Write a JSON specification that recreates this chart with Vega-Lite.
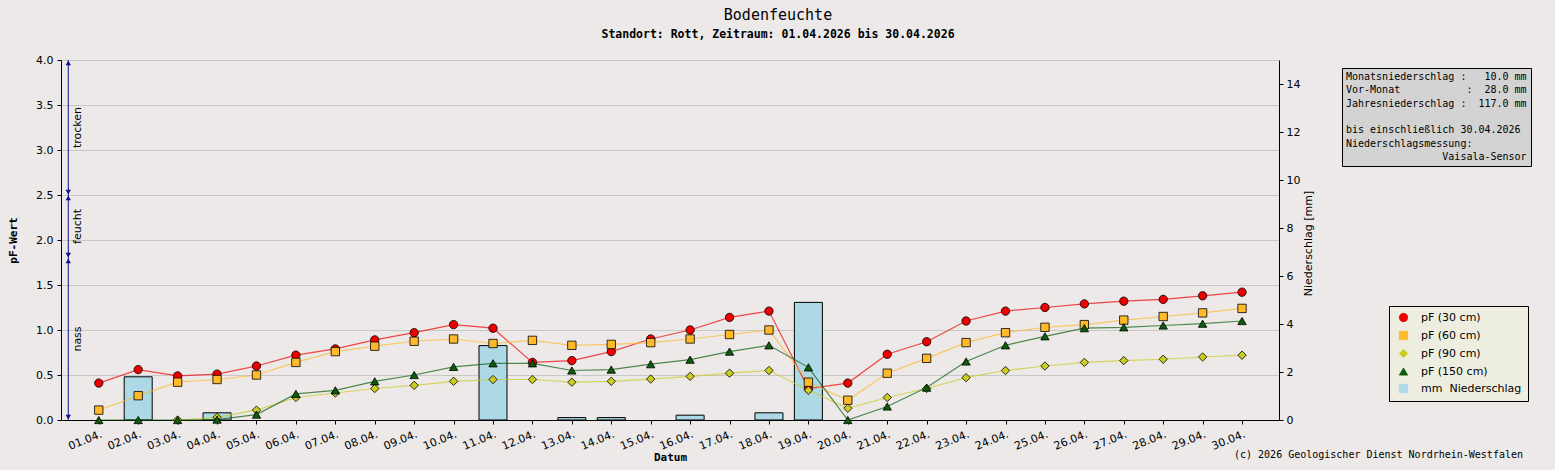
{
  "$schema": "https://vega.github.io/schema/vega-lite/v6.json",
  "description": "Bodenfeuchte Rott, April 2026",
  "width": 1218,
  "height": 360,
  "autosize": "none",
  "padding": {"left": 61, "top": 60, "right": 276, "bottom": 50},
  "background": "#ece9e8",
  "title": {
    "text": "Bodenfeuchte",
    "subtitle": "Standort: Rott, Zeitraum: 01.04.2026 bis 30.04.2026",
    "anchor": "middle",
    "frame": "group",
    "dx": 108,
    "offset": 14,
    "font": "DejaVu Sans Mono",
    "fontSize": 15,
    "fontWeight": "normal",
    "color": "black",
    "subtitleFont": "DejaVu Sans Mono",
    "subtitleFontSize": 11.5,
    "subtitleFontWeight": "bold",
    "subtitleColor": "black",
    "subtitlePadding": 6
  },
  "config": {
    "view": {"fill": "white", "stroke": null},
    "axis": {
      "labelFont": "DejaVu Sans",
      "labelFontSize": 11,
      "labelColor": "black",
      "domainColor": "black",
      "tickColor": "black",
      "titleColor": "black"
    }
  },
  "datasets": {
    "boden": [
      {"datum": "2026-04-01", "serie": "pF (30 cm)", "pF": 0.41},
      {"datum": "2026-04-02", "serie": "pF (30 cm)", "pF": 0.56},
      {"datum": "2026-04-03", "serie": "pF (30 cm)", "pF": 0.49},
      {"datum": "2026-04-04", "serie": "pF (30 cm)", "pF": 0.51},
      {"datum": "2026-04-05", "serie": "pF (30 cm)", "pF": 0.60},
      {"datum": "2026-04-06", "serie": "pF (30 cm)", "pF": 0.72},
      {"datum": "2026-04-07", "serie": "pF (30 cm)", "pF": 0.79},
      {"datum": "2026-04-08", "serie": "pF (30 cm)", "pF": 0.89},
      {"datum": "2026-04-09", "serie": "pF (30 cm)", "pF": 0.97},
      {"datum": "2026-04-10", "serie": "pF (30 cm)", "pF": 1.06},
      {"datum": "2026-04-11", "serie": "pF (30 cm)", "pF": 1.02},
      {"datum": "2026-04-12", "serie": "pF (30 cm)", "pF": 0.64},
      {"datum": "2026-04-13", "serie": "pF (30 cm)", "pF": 0.66},
      {"datum": "2026-04-14", "serie": "pF (30 cm)", "pF": 0.76},
      {"datum": "2026-04-15", "serie": "pF (30 cm)", "pF": 0.90},
      {"datum": "2026-04-16", "serie": "pF (30 cm)", "pF": 1.00},
      {"datum": "2026-04-17", "serie": "pF (30 cm)", "pF": 1.14},
      {"datum": "2026-04-18", "serie": "pF (30 cm)", "pF": 1.21},
      {"datum": "2026-04-19", "serie": "pF (30 cm)", "pF": 0.35},
      {"datum": "2026-04-20", "serie": "pF (30 cm)", "pF": 0.41},
      {"datum": "2026-04-21", "serie": "pF (30 cm)", "pF": 0.73},
      {"datum": "2026-04-22", "serie": "pF (30 cm)", "pF": 0.87},
      {"datum": "2026-04-23", "serie": "pF (30 cm)", "pF": 1.10},
      {"datum": "2026-04-24", "serie": "pF (30 cm)", "pF": 1.21},
      {"datum": "2026-04-25", "serie": "pF (30 cm)", "pF": 1.25},
      {"datum": "2026-04-26", "serie": "pF (30 cm)", "pF": 1.29},
      {"datum": "2026-04-27", "serie": "pF (30 cm)", "pF": 1.32},
      {"datum": "2026-04-28", "serie": "pF (30 cm)", "pF": 1.34},
      {"datum": "2026-04-29", "serie": "pF (30 cm)", "pF": 1.38},
      {"datum": "2026-04-30", "serie": "pF (30 cm)", "pF": 1.42},
      {"datum": "2026-04-01", "serie": "pF (60 cm)", "pF": 0.11},
      {"datum": "2026-04-02", "serie": "pF (60 cm)", "pF": 0.27},
      {"datum": "2026-04-03", "serie": "pF (60 cm)", "pF": 0.42},
      {"datum": "2026-04-04", "serie": "pF (60 cm)", "pF": 0.45},
      {"datum": "2026-04-05", "serie": "pF (60 cm)", "pF": 0.50},
      {"datum": "2026-04-06", "serie": "pF (60 cm)", "pF": 0.64},
      {"datum": "2026-04-07", "serie": "pF (60 cm)", "pF": 0.76},
      {"datum": "2026-04-08", "serie": "pF (60 cm)", "pF": 0.82},
      {"datum": "2026-04-09", "serie": "pF (60 cm)", "pF": 0.875},
      {"datum": "2026-04-10", "serie": "pF (60 cm)", "pF": 0.90},
      {"datum": "2026-04-11", "serie": "pF (60 cm)", "pF": 0.85},
      {"datum": "2026-04-12", "serie": "pF (60 cm)", "pF": 0.885},
      {"datum": "2026-04-13", "serie": "pF (60 cm)", "pF": 0.83},
      {"datum": "2026-04-14", "serie": "pF (60 cm)", "pF": 0.84},
      {"datum": "2026-04-15", "serie": "pF (60 cm)", "pF": 0.86},
      {"datum": "2026-04-16", "serie": "pF (60 cm)", "pF": 0.90},
      {"datum": "2026-04-17", "serie": "pF (60 cm)", "pF": 0.95},
      {"datum": "2026-04-18", "serie": "pF (60 cm)", "pF": 1.00},
      {"datum": "2026-04-19", "serie": "pF (60 cm)", "pF": 0.42},
      {"datum": "2026-04-20", "serie": "pF (60 cm)", "pF": 0.22},
      {"datum": "2026-04-21", "serie": "pF (60 cm)", "pF": 0.52},
      {"datum": "2026-04-22", "serie": "pF (60 cm)", "pF": 0.685},
      {"datum": "2026-04-23", "serie": "pF (60 cm)", "pF": 0.86},
      {"datum": "2026-04-24", "serie": "pF (60 cm)", "pF": 0.97},
      {"datum": "2026-04-25", "serie": "pF (60 cm)", "pF": 1.03},
      {"datum": "2026-04-26", "serie": "pF (60 cm)", "pF": 1.06},
      {"datum": "2026-04-27", "serie": "pF (60 cm)", "pF": 1.11},
      {"datum": "2026-04-28", "serie": "pF (60 cm)", "pF": 1.15},
      {"datum": "2026-04-29", "serie": "pF (60 cm)", "pF": 1.19},
      {"datum": "2026-04-30", "serie": "pF (60 cm)", "pF": 1.24},
      {"datum": "2026-04-03", "serie": "pF (90 cm)", "pF": 0.0},
      {"datum": "2026-04-04", "serie": "pF (90 cm)", "pF": 0.03},
      {"datum": "2026-04-05", "serie": "pF (90 cm)", "pF": 0.11},
      {"datum": "2026-04-06", "serie": "pF (90 cm)", "pF": 0.25},
      {"datum": "2026-04-07", "serie": "pF (90 cm)", "pF": 0.30},
      {"datum": "2026-04-08", "serie": "pF (90 cm)", "pF": 0.35},
      {"datum": "2026-04-09", "serie": "pF (90 cm)", "pF": 0.385},
      {"datum": "2026-04-10", "serie": "pF (90 cm)", "pF": 0.43},
      {"datum": "2026-04-11", "serie": "pF (90 cm)", "pF": 0.45},
      {"datum": "2026-04-12", "serie": "pF (90 cm)", "pF": 0.45},
      {"datum": "2026-04-13", "serie": "pF (90 cm)", "pF": 0.42},
      {"datum": "2026-04-14", "serie": "pF (90 cm)", "pF": 0.43},
      {"datum": "2026-04-15", "serie": "pF (90 cm)", "pF": 0.455},
      {"datum": "2026-04-16", "serie": "pF (90 cm)", "pF": 0.485},
      {"datum": "2026-04-17", "serie": "pF (90 cm)", "pF": 0.52},
      {"datum": "2026-04-18", "serie": "pF (90 cm)", "pF": 0.55},
      {"datum": "2026-04-19", "serie": "pF (90 cm)", "pF": 0.33},
      {"datum": "2026-04-20", "serie": "pF (90 cm)", "pF": 0.13},
      {"datum": "2026-04-21", "serie": "pF (90 cm)", "pF": 0.25},
      {"datum": "2026-04-22", "serie": "pF (90 cm)", "pF": 0.35},
      {"datum": "2026-04-23", "serie": "pF (90 cm)", "pF": 0.47},
      {"datum": "2026-04-24", "serie": "pF (90 cm)", "pF": 0.55},
      {"datum": "2026-04-25", "serie": "pF (90 cm)", "pF": 0.60},
      {"datum": "2026-04-26", "serie": "pF (90 cm)", "pF": 0.64},
      {"datum": "2026-04-27", "serie": "pF (90 cm)", "pF": 0.66},
      {"datum": "2026-04-28", "serie": "pF (90 cm)", "pF": 0.675},
      {"datum": "2026-04-29", "serie": "pF (90 cm)", "pF": 0.70},
      {"datum": "2026-04-30", "serie": "pF (90 cm)", "pF": 0.72},
      {"datum": "2026-04-01", "serie": "pF (150 cm)", "pF": 0.0},
      {"datum": "2026-04-02", "serie": "pF (150 cm)", "pF": 0.0},
      {"datum": "2026-04-03", "serie": "pF (150 cm)", "pF": 0.0},
      {"datum": "2026-04-04", "serie": "pF (150 cm)", "pF": 0.005},
      {"datum": "2026-04-05", "serie": "pF (150 cm)", "pF": 0.06},
      {"datum": "2026-04-06", "serie": "pF (150 cm)", "pF": 0.29},
      {"datum": "2026-04-07", "serie": "pF (150 cm)", "pF": 0.33},
      {"datum": "2026-04-08", "serie": "pF (150 cm)", "pF": 0.43},
      {"datum": "2026-04-09", "serie": "pF (150 cm)", "pF": 0.50},
      {"datum": "2026-04-10", "serie": "pF (150 cm)", "pF": 0.59},
      {"datum": "2026-04-11", "serie": "pF (150 cm)", "pF": 0.63},
      {"datum": "2026-04-12", "serie": "pF (150 cm)", "pF": 0.63},
      {"datum": "2026-04-13", "serie": "pF (150 cm)", "pF": 0.55},
      {"datum": "2026-04-14", "serie": "pF (150 cm)", "pF": 0.56},
      {"datum": "2026-04-15", "serie": "pF (150 cm)", "pF": 0.62},
      {"datum": "2026-04-16", "serie": "pF (150 cm)", "pF": 0.67},
      {"datum": "2026-04-17", "serie": "pF (150 cm)", "pF": 0.76},
      {"datum": "2026-04-18", "serie": "pF (150 cm)", "pF": 0.83},
      {"datum": "2026-04-19", "serie": "pF (150 cm)", "pF": 0.585},
      {"datum": "2026-04-20", "serie": "pF (150 cm)", "pF": 0.0},
      {"datum": "2026-04-21", "serie": "pF (150 cm)", "pF": 0.15},
      {"datum": "2026-04-22", "serie": "pF (150 cm)", "pF": 0.36},
      {"datum": "2026-04-23", "serie": "pF (150 cm)", "pF": 0.65},
      {"datum": "2026-04-24", "serie": "pF (150 cm)", "pF": 0.83},
      {"datum": "2026-04-25", "serie": "pF (150 cm)", "pF": 0.93},
      {"datum": "2026-04-26", "serie": "pF (150 cm)", "pF": 1.02},
      {"datum": "2026-04-27", "serie": "pF (150 cm)", "pF": 1.03},
      {"datum": "2026-04-28", "serie": "pF (150 cm)", "pF": 1.05},
      {"datum": "2026-04-29", "serie": "pF (150 cm)", "pF": 1.07},
      {"datum": "2026-04-30", "serie": "pF (150 cm)", "pF": 1.10}
    ],
    "regen": [
      {"datum": "2026-04-02", "mm": 1.8},
      {"datum": "2026-04-04", "mm": 0.3},
      {"datum": "2026-04-11", "mm": 3.1},
      {"datum": "2026-04-13", "mm": 0.1},
      {"datum": "2026-04-14", "mm": 0.1},
      {"datum": "2026-04-16", "mm": 0.2},
      {"datum": "2026-04-18", "mm": 0.3},
      {"datum": "2026-04-19", "mm": 4.9}
    ],
    "zonen": [
      {"zone": "trocken", "lo": 2.5, "hi": 4.0},
      {"zone": "feucht", "lo": 1.8, "hi": 2.5},
      {"zone": "nass", "lo": 0.0, "hi": 1.8}
    ],
    "info": [
      {"zeile": "Monatsniederschlag\u00a0:\u00a0\u00a0\u00a010.0\u00a0mm"},
      {"zeile": "Vor-Monat\u00a0\u00a0\u00a0\u00a0\u00a0\u00a0\u00a0\u00a0\u00a0\u00a0\u00a0:\u00a0\u00a028.0\u00a0mm"},
      {"zeile": "Jahresniederschlag\u00a0:\u00a0\u00a0117.0\u00a0mm"},
      {"zeile": "\u200b"},
      {"zeile": "bis\u00a0einschließlich\u00a030.04.2026"},
      {"zeile": "Niederschlagsmessung:"},
      {"zeile": "\u200b\u00a0\u00a0\u00a0\u00a0\u00a0\u00a0\u00a0\u00a0\u00a0\u00a0\u00a0\u00a0\u00a0\u00a0\u00a0\u00a0Vaisala-Sensor"}
    ],
    "quelle": [
      {"text": "(c)\u00a02026\u00a0Geologischer\u00a0Dienst\u00a0Nordrhein-Westfalen"}
    ]
  },
  "layer": [
    {
      "data": {"name": "regen"},
      "mark": {"type": "bar", "width": 28, "stroke": "black", "strokeWidth": 1, "opacity": 1},
      "encoding": {
        "x": {
          "field": "datum",
          "type": "temporal",
          "scale": {"type": "utc", "nice": false, "padding": 0, "domain": [{"year": 2026, "month": 3, "date": 31, "hours": 1, "utc": true}, {"year": 2026, "month": 4, "date": 30, "hours": 22, "minutes": 30, "utc": true}]},
          "axis": {
            "title": "Datum",
            "titleFont": "DejaVu Sans Mono",
            "titleFontWeight": "bold",
            "titleFontSize": 11,
            "titleX": 609,
            "titleY": 37,
            "titleAlign": "center",
            "titleBaseline": "middle",
            "format": "%d.%m.",
            "tickCount": {"interval": "day", "step": 1},
            "labelAngle": -22,
            "labelAlign": "right",
            "labelBaseline": "top",
            "labelOverlap": false,
            "labelFlush": false,
            "tickSize": 4,
            "labelPadding": 4,
            "grid": false
          }
        },
        "y": {
          "field": "mm",
          "type": "quantitative",
          "scale": {"domain": [0, 15]},
          "axis": {
            "orient": "right",
            "title": "Niederschlag [mm]",
            "titleFont": "DejaVu Sans",
            "titleFontWeight": "normal",
            "titleFontSize": 11,
            "titleAngle": 270,
            "titleX": 29,
            "titleY": 183,
            "titleAlign": "center",
            "titleBaseline": "middle",
            "values": [0, 2, 4, 6, 8, 10, 12, 14],
            "format": "d",
            "labelOverlap": false,
            "tickSize": 4,
            "labelPadding": 3,
            "grid": false
          }
        },
        "color": {
          "datum": "mm\u00a0\u00a0Niederschlag",
          "type": "nominal",
          "scale": {
            "domain": ["pF (30 cm)", "pF (60 cm)", "pF (90 cm)", "pF (150 cm)", "mm\u00a0\u00a0Niederschlag"],
            "range": ["#ee0000", "#ffb92b", "#cccc22", "#0b5d0b", "#add8e6"]
          },
          "legend": {
            "title": null, "orient": "none", "legendX": 1328, "legendY": 246,
            "fillColor": "#eeeee0", "strokeColor": "black", "padding": 6, "rowPadding": 5,
            "symbolSize": 70, "symbolOffset": 3, "symbolStrokeWidth": 0.8, "symbolOpacity": 1,
            "labelFont": "DejaVu Sans", "labelFontSize": 11, "labelOffset": 12, "labelColor": "black"
          }
        }
      }
    },
    {
      "layer": [
        {
          "data": {"name": "boden"},
          "mark": {"type": "line", "strokeWidth": 1.2, "opacity": 0.7},
          "encoding": {
            "x": {"field": "datum", "type": "temporal", "scale": {"type": "utc", "nice": false, "padding": 0, "domain": [{"year": 2026, "month": 3, "date": 31, "hours": 1, "utc": true}, {"year": 2026, "month": 4, "date": 30, "hours": 22, "minutes": 30, "utc": true}]}},
            "y": {
              "field": "pF",
              "type": "quantitative",
              "scale": {"domain": [0, 4]},
              "axis": {
                "orient": "left",
                "title": "pF-Wert",
                "titleFont": "DejaVu Sans Mono",
                "titleFontWeight": "bold",
                "titleFontSize": 11,
                "titleAngle": 270,
                "titleX": -48,
                "titleY": 180,
                "titleAlign": "center",
                "titleBaseline": "middle",
                "values": [0, 0.5, 1, 1.5, 2, 2.5, 3, 3.5, 4],
                "format": ".1f",
                "labelOverlap": false,
                "tickSize": 4,
                "labelPadding": 4,
                "grid": true,
                "gridColor": "#c8c8c8"
              }
            },
            "color": {
              "field": "serie",
              "type": "nominal",
              "scale": {
                "domain": ["pF (30 cm)", "pF (60 cm)", "pF (90 cm)", "pF (150 cm)", "mm\u00a0\u00a0Niederschlag"],
                "range": ["#ee0000", "#ffb92b", "#cccc22", "#0b5d0b", "#add8e6"]
              },
              "legend": {
                "title": null, "orient": "none", "legendX": 1328, "legendY": 246,
                "fillColor": "#eeeee0", "strokeColor": "black", "padding": 6, "rowPadding": 5,
                "symbolSize": 70, "symbolOffset": 3, "symbolStrokeWidth": 0.8, "symbolOpacity": 1,
                "labelFont": "DejaVu Sans", "labelFontSize": 11, "labelOffset": 12, "labelColor": "black"
              }
            }
          }
        },
        {
          "data": {"name": "boden"},
          "mark": {"type": "point", "filled": true, "stroke": "black", "strokeWidth": 0.8, "size": 70, "opacity": 1},
          "encoding": {
            "x": {"field": "datum", "type": "temporal", "scale": {"type": "utc", "nice": false, "padding": 0, "domain": [{"year": 2026, "month": 3, "date": 31, "hours": 1, "utc": true}, {"year": 2026, "month": 4, "date": 30, "hours": 22, "minutes": 30, "utc": true}]}},
            "y": {"field": "pF", "type": "quantitative", "scale": {"domain": [0, 4]}},
            "color": {
              "field": "serie",
              "type": "nominal",
              "scale": {
                "domain": ["pF (30 cm)", "pF (60 cm)", "pF (90 cm)", "pF (150 cm)", "mm\u00a0\u00a0Niederschlag"],
                "range": ["#ee0000", "#ffb92b", "#cccc22", "#0b5d0b", "#add8e6"]
              },
              "legend": {
                "title": null, "orient": "none", "legendX": 1328, "legendY": 246,
                "fillColor": "#eeeee0", "strokeColor": "black", "padding": 6, "rowPadding": 5,
                "symbolSize": 70, "symbolOffset": 3, "symbolStrokeWidth": 0.8, "symbolOpacity": 1,
                "labelFont": "DejaVu Sans", "labelFontSize": 11, "labelOffset": 12, "labelColor": "black",
                "encode": {"symbols": {"stroke": {"value": "black"}}}
              }
            },
            "shape": {
              "field": "serie",
              "type": "nominal",
              "scale": {
                "domain": ["pF (30 cm)", "pF (60 cm)", "pF (90 cm)", "pF (150 cm)", "mm\u00a0\u00a0Niederschlag"],
                "range": ["circle", "square", "diamond", "triangle-up", "square"]
              },
              "legend": {
                "title": null, "orient": "none", "legendX": 1328, "legendY": 246,
                "fillColor": "#eeeee0", "strokeColor": "black", "padding": 6, "rowPadding": 5,
                "symbolSize": 70, "symbolOffset": 3, "symbolStrokeWidth": 0.8, "symbolOpacity": 1,
                "labelFont": "DejaVu Sans", "labelFontSize": 11, "labelOffset": 12, "labelColor": "black",
                "encode": {"symbols": {"stroke": {"value": "black"}}}
              }
            }
          }
        },
        {
          "data": {"name": "zonen"},
          "mark": {"type": "rule", "color": "#10108a", "strokeWidth": 1},
          "encoding": {
            "x": {"datum": {"year": 2026, "month": 3, "date": 31, "hours": 5, "minutes": 26, "utc": true}, "type": "temporal", "scale": {"type": "utc", "nice": false, "padding": 0, "domain": [{"year": 2026, "month": 3, "date": 31, "hours": 1, "utc": true}, {"year": 2026, "month": 4, "date": 30, "hours": 22, "minutes": 30, "utc": true}]}},
            "y": {"field": "lo", "type": "quantitative", "scale": {"domain": [0, 4]}},
            "y2": {"field": "hi"}
          }
        },
        {
          "data": {"name": "zonen"},
          "mark": {"type": "point", "shape": "triangle-up", "filled": true, "color": "#10108a", "size": 30, "opacity": 1, "yOffset": 3},
          "encoding": {
            "x": {"datum": {"year": 2026, "month": 3, "date": 31, "hours": 5, "minutes": 26, "utc": true}, "type": "temporal", "scale": {"type": "utc", "nice": false, "padding": 0, "domain": [{"year": 2026, "month": 3, "date": 31, "hours": 1, "utc": true}, {"year": 2026, "month": 4, "date": 30, "hours": 22, "minutes": 30, "utc": true}]}},
            "y": {"field": "hi", "type": "quantitative", "scale": {"domain": [0, 4]}}
          }
        },
        {
          "data": {"name": "zonen"},
          "mark": {"type": "point", "shape": "triangle-down", "filled": true, "color": "#10108a", "size": 30, "opacity": 1, "yOffset": -3},
          "encoding": {
            "x": {"datum": {"year": 2026, "month": 3, "date": 31, "hours": 5, "minutes": 26, "utc": true}, "type": "temporal", "scale": {"type": "utc", "nice": false, "padding": 0, "domain": [{"year": 2026, "month": 3, "date": 31, "hours": 1, "utc": true}, {"year": 2026, "month": 4, "date": 30, "hours": 22, "minutes": 30, "utc": true}]}},
            "y": {"field": "lo", "type": "quantitative", "scale": {"domain": [0, 4]}}
          }
        },
        {
          "data": {"name": "zonen"},
          "transform": [{"calculate": "(datum.lo + datum.hi) / 2", "as": "mitte"}],
          "mark": {"type": "text", "angle": 270, "align": "center", "baseline": "top", "dy": 4, "font": "DejaVu Sans", "fontSize": 11, "color": "black"},
          "encoding": {
            "x": {"datum": {"year": 2026, "month": 3, "date": 31, "hours": 5, "minutes": 26, "utc": true}, "type": "temporal", "scale": {"type": "utc", "nice": false, "padding": 0, "domain": [{"year": 2026, "month": 3, "date": 31, "hours": 1, "utc": true}, {"year": 2026, "month": 4, "date": 30, "hours": 22, "minutes": 30, "utc": true}]}},
            "y": {"field": "mitte", "type": "quantitative", "scale": {"domain": [0, 4]}},
            "text": {"field": "zone"}
          }
        }
      ]
    },
    {
      "data": {"name": "info"},
      "mark": {"type": "point", "filled": true, "opacity": 0},
      "encoding": {
        "fill": {
          "field": "zeile",
          "type": "nominal",
          "sort": null,
          "legend": {
            "title": null, "orient": "none", "legendX": 1281, "legendY": 8,
            "fillColor": "#d3d3d3", "strokeColor": "black", "padding": 4, "rowPadding": 3.3,
            "symbolSize": 0, "symbolStrokeWidth": 0, "symbolOpacity": 0, "labelOffset": -10,
            "labelFont": "DejaVu Sans Mono", "labelFontSize": 10, "labelLimit": 400, "labelColor": "black"
          }
        }
      }
    },
    {
      "data": {"name": "quelle"},
      "mark": {"type": "point", "opacity": 0},
      "encoding": {
        "stroke": {
          "field": "text",
          "type": "nominal",
          "legend": {
            "title": null, "orient": "none", "legendX": 1175, "legendY": 390, "padding": 0,
            "symbolSize": 0, "symbolStrokeWidth": 0, "symbolOpacity": 0, "labelOffset": -12,
            "labelFont": "DejaVu Sans Mono", "labelFontSize": 10, "labelLimit": 400, "labelColor": "black"
          }
        }
      }
    }
  ],
  "resolve": {"scale": {"y": "independent"}}
}
